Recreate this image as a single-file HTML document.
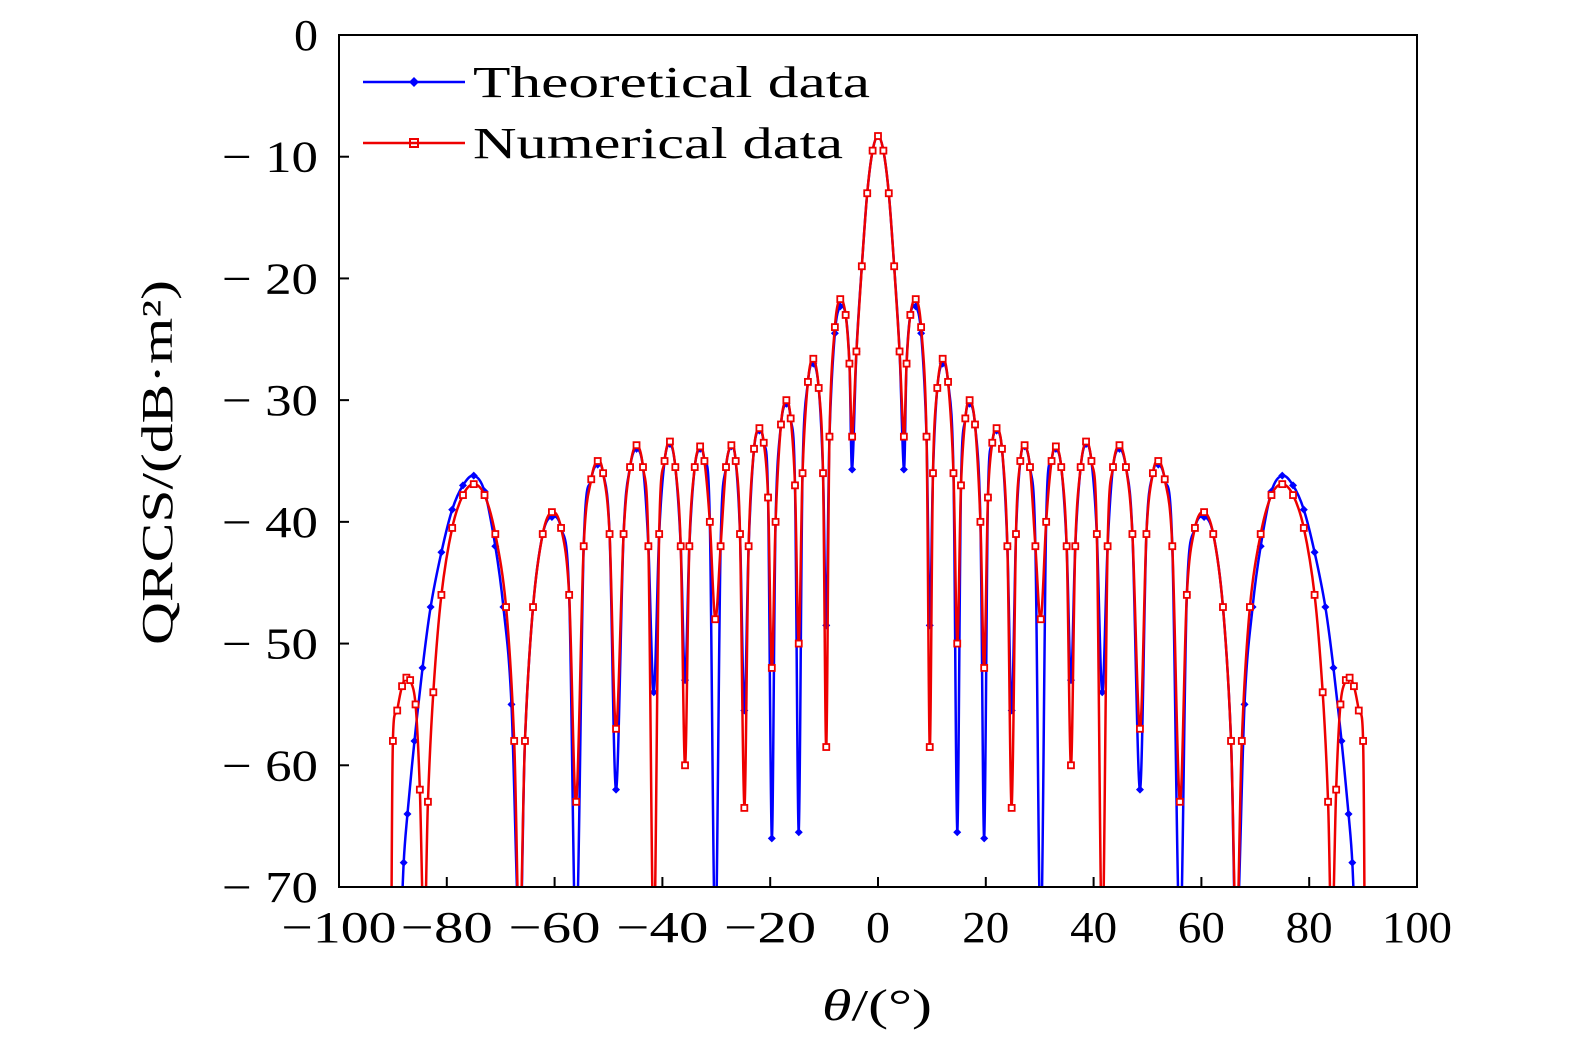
<!DOCTYPE html>
<html><head><meta charset="utf-8"><style>
body{margin:0;background:#fff}
svg text{font-family:"Liberation Serif",serif;fill:#000}
</style></head><body>
<svg id="chart" width="1575" height="1043" xmlns="http://www.w3.org/2000/svg">
<defs><clipPath id="clip"><rect x="339" y="35" width="1078" height="852"/></clipPath></defs>
<g id="series" clip-path="url(#clip)"></g>
<rect x="339" y="35" width="1078" height="852" fill="none" stroke="#000" stroke-width="2"/>
<g id="ticks"></g>
<text x="822" y="1020" font-size="44" textLength="110" lengthAdjust="spacingAndGlyphs"><tspan font-style="italic">θ</tspan>/(°)</text>
<text transform="translate(172,645) rotate(-90)" font-size="44" textLength="365" lengthAdjust="spacingAndGlyphs">QRCS/(dB·m²)</text>
<g>
<line x1="363" y1="82" x2="465" y2="82" stroke="#0000ff" stroke-width="2.5"/>
<path d="M414 77 L419 82 L414 87 L409 82Z" fill="#0000ff"/>
<text x="473" y="97" font-size="44" textLength="397" lengthAdjust="spacingAndGlyphs">Theoretical data</text>
<line x1="363" y1="143" x2="465" y2="143" stroke="#ee0000" stroke-width="2.5"/>
<rect x="410" y="139" width="8" height="8" fill="none" stroke="#ee0000" stroke-width="2"/>
<text x="473" y="158" font-size="44" textLength="370" lengthAdjust="spacingAndGlyphs">Numerical data</text>
</g>
</svg>
<script>
const xTicks=[-100,-80,-60,-40,-20,0,20,40,60,80,100];
const yTicks=[0,-10,-20,-30,-40,-50,-60,-70];
// positive half (symmetric pattern), angle in degrees
const redAngles=[0,1,2,3,4,4.8,5.3,6,7,8,9,9.6,10.2,11,12,13,14,14.7,15.4,16.2,17,18,19,19.7,20.4,21.2,22,23,24,24.8,25.6,26.4,27.2,28.2,29.2,30.2,31.2,32.2,33,34,35,35.8,36.6,37.6,38.6,39.6,40.6,41.6,42.6,43.6,44.8,46,47.2,48.6,49.8,51,52,53.2,54.6,56,57.3,58.8,60.5,62.2,64,65.5,66.5,67.5,69,71,73,75,77,79,81,82.5,83.5,84.2,85,85.8,86.8,87.5,88.3,89.2,90,90.3];
const redValues=[-8.3,-9.5,-13,-19,-26,-33,-27,-23,-21.7,-24,-33,-58.5,-36,-29,-26.6,-28.5,-36,-50,-37,-31.5,-30,-32,-40,-52,-38,-33.5,-32.3,-34,-42,-63.5,-41,-35,-33.7,-35.5,-42,-48,-40,-35,-33.8,-35.5,-42,-60,-42,-35.5,-33.4,-35,-41,-75,-42,-35.5,-33.7,-35.5,-41,-57,-41,-36,-35,-36.5,-42,-63,-46,-40.5,-39.2,-41,-47,-58,-75,-58,-47,-41,-37.8,-36.9,-37.8,-40.5,-46,-54,-63,-75,-62,-55,-53,-52.8,-53.5,-55.5,-58,-75];
const blueAngles=[0,1,2,3,4,4.8,5.3,6,7,8,9,9.6,10.2,11,12,13,14,14.7,15.4,16.2,17,18,19,19.7,20.4,21.2,22,23,24,24.8,25.6,26.4,27.2,28.2,29.2,30.2,31.2,32.2,33,34,35,35.8,36.6,37.6,38.6,39.6,40.6,41.6,42.6,43.6,44.8,46,47.2,48.6,49.8,51,52,53.2,54.6,56,57.3,58.8,60.5,62.2,64,65.5,66.5,68,69.5,71,73,75,77,79,81,83,84.5,86,87.3,88,88.6];
const blueValues=[-8.3,-9.5,-13,-19,-26,-35.7,-27,-23,-22.3,-24.5,-33,-48.5,-36,-29,-27,-28.5,-36,-65.5,-37,-31.5,-30.3,-32,-40,-66,-38,-33.5,-32.5,-34,-42,-55.5,-41,-35,-33.8,-35.5,-42,-75,-40,-35,-34,-35.5,-42,-53,-42,-35.5,-33.6,-35,-41,-54,-42,-35.5,-34,-35.5,-41,-62,-41,-36,-35.3,-36.5,-42,-75,-46,-40.5,-39.6,-41,-47,-58,-75,-55,-47,-42,-37.5,-36.2,-37,-39,-42.5,-47,-52,-58,-64,-68,-75];
const X=v=>339+(v+100)*1078/200, Y=v=>35-v*852/70;
const NS="http://www.w3.org/2000/svg";
function mk(t,a,p){const e=document.createElementNS(NS,t);for(const k in a)e.setAttribute(k,a[k]);p.appendChild(e);return e;}
const tk=document.getElementById('ticks');
xTicks.forEach(v=>{
 const l=mk('line',{x1:X(v),x2:X(v),y1:887,y2:877,stroke:'#000','stroke-width':2},tk);
 
 
 const s=v<0?'−'+(-v):String(v);
 const w=(Math.abs(v)>=100?70:Math.abs(v)>=10?47:24)+(v<0?45:0);
 const t=mk('text',{x:X(v)-w/2,y:942,'font-size':44,textLength:w,lengthAdjust:'spacingAndGlyphs'},tk);
 t.textContent=s;
 
 
});
yTicks.forEach(v=>{
 const l=mk('line',{x1:339,x2:349,y1:Y(v),y2:Y(v),stroke:'#000','stroke-width':2},tk);
 
 
 const w=v<0?96:24;
 const t=mk('text',{x:318-w,y:Y(v)+15,'font-size':44,textLength:w,lengthAdjust:'spacingAndGlyphs'},tk);
 t.textContent=v<0?'− '+(-v):String(v);
 
 
});
function full(a,v){const A=[],V=[];for(let i=a.length-1;i>0;i--){A.push(-a[i]);V.push(v[i]);}for(let i=0;i<a.length;i++){A.push(a[i]);V.push(v[i]);}return [A,V];}
function path(A,V){const P=A.map((a,i)=>[X(a),Y(V[i])]);let d='M'+P[0][0]+' '+P[0][1];
 for(let i=0;i<P.length-1;i++){const p0=P[Math.max(0,i-1)],p1=P[i],p2=P[i+1],p3=P[Math.min(P.length-1,i+2)];
  const c1=[p1[0]+(p2[0]-p0[0])/6,p1[1]+(p2[1]-p0[1])/6],c2=[p2[0]-(p3[0]-p1[0])/6,p2[1]-(p3[1]-p1[1])/6];
  d+=` C${c1[0]} ${c1[1]} ${c2[0]} ${c2[1]} ${p2[0]} ${p2[1]}`;}return d;}
const sg=document.getElementById('series');
const [bA,bV]=full(blueAngles,blueValues),[rA,rV]=full(redAngles,redValues);
const bl=mk('path',{d:path(bA,bV),fill:'none',stroke:'#0000ff','stroke-width':2.5},sg);


bA.forEach((a,i)=>{const x=X(a),y=Y(bV[i]);const m=mk('path',{d:`M${x} ${y-4}L${x+4} ${y}L${x} ${y+4}L${x-4} ${y}Z`,fill:'#0000ff'},sg);
 
 });
const rl=mk('path',{d:path(rA,rV),fill:'none',stroke:'#ee0000','stroke-width':2.5},sg);


rA.forEach((a,i)=>{const m=mk('rect',{x:X(a)-3,y:Y(rV[i])-3,width:6,height:6,fill:'#fff',stroke:'#ee0000','stroke-width':1.8},sg);
 
 });
</script>
</body></html>
